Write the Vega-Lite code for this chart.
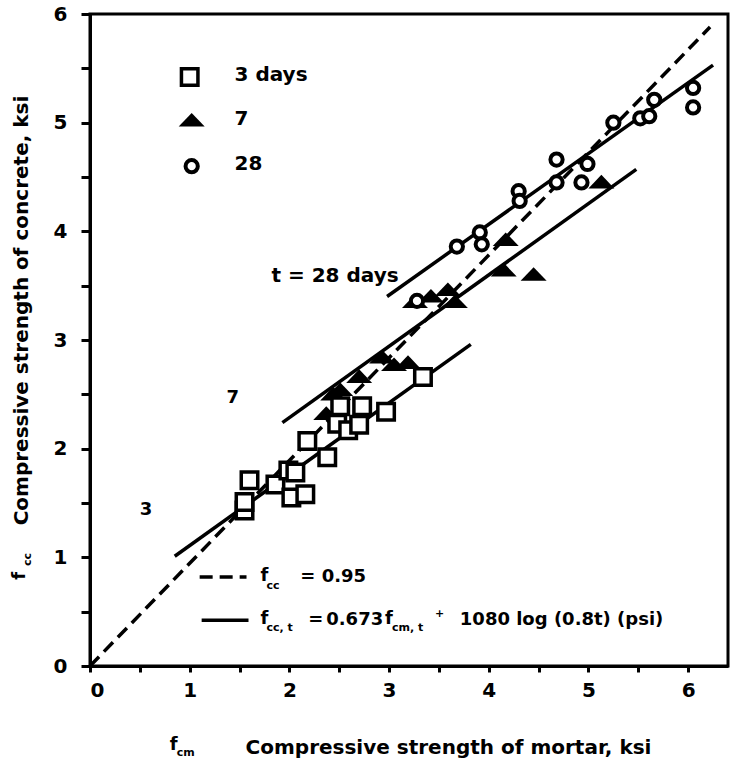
{
  "$schema": "https://vega.github.io/schema/vega-lite/v6.json",
  "width": 638,
  "height": 652,
  "autosize": {"type": "none"},
  "padding": {"left": 90, "top": 14, "right": 3, "bottom": 97},
  "background": "white",
  "config": {
    "view": {"stroke": "black", "strokeWidth": 3},
    "font": "DejaVu Sans",
    "text": {"font": "DejaVu Sans", "fontWeight": "bold", "color": "black"}
  },
  "datasets": {
    "pts": [
      {"age": "3", "x": 1.55, "y": 1.43}, {"age": "3", "x": 1.55, "y": 1.51}, {"age": "3", "x": 1.60, "y": 1.71},
      {"age": "3", "x": 1.86, "y": 1.67}, {"age": "3", "x": 1.99, "y": 1.80}, {"age": "3", "x": 2.06, "y": 1.78},
      {"age": "3", "x": 2.02, "y": 1.55}, {"age": "3", "x": 2.16, "y": 1.58}, {"age": "3", "x": 2.18, "y": 2.07},
      {"age": "3", "x": 2.38, "y": 1.92}, {"age": "3", "x": 2.48, "y": 2.23}, {"age": "3", "x": 2.51, "y": 2.39},
      {"age": "3", "x": 2.59, "y": 2.17}, {"age": "3", "x": 2.70, "y": 2.22}, {"age": "3", "x": 2.73, "y": 2.39},
      {"age": "3", "x": 2.97, "y": 2.34}, {"age": "3", "x": 3.34, "y": 2.66}, {"age": "3", "x": 1.00, "y": 5.42},
      {"age": "7", "x": 2.37, "y": 2.33}, {"age": "7", "x": 2.44, "y": 2.51}, {"age": "7", "x": 2.51, "y": 2.55},
      {"age": "7", "x": 2.70, "y": 2.67}, {"age": "7", "x": 2.93, "y": 2.85}, {"age": "7", "x": 3.05, "y": 2.78},
      {"age": "7", "x": 3.19, "y": 2.80}, {"age": "7", "x": 3.26, "y": 3.36}, {"age": "7", "x": 3.42, "y": 3.41},
      {"age": "7", "x": 3.59, "y": 3.47}, {"age": "7", "x": 3.66, "y": 3.36}, {"age": "7", "x": 4.17, "y": 3.93},
      {"age": "7", "x": 4.15, "y": 3.65}, {"age": "7", "x": 4.45, "y": 3.61}, {"age": "7", "x": 5.13, "y": 4.46},
      {"age": "7", "x": 1.02, "y": 5.03},
      {"age": "28", "x": 3.28, "y": 3.36}, {"age": "28", "x": 3.68, "y": 3.86}, {"age": "28", "x": 3.91, "y": 3.99},
      {"age": "28", "x": 3.93, "y": 3.88}, {"age": "28", "x": 4.30, "y": 4.37}, {"age": "28", "x": 4.31, "y": 4.28},
      {"age": "28", "x": 4.68, "y": 4.66}, {"age": "28", "x": 4.68, "y": 4.45}, {"age": "28", "x": 4.93, "y": 4.45},
      {"age": "28", "x": 4.99, "y": 4.62}, {"age": "28", "x": 5.25, "y": 5.00}, {"age": "28", "x": 5.52, "y": 5.04},
      {"age": "28", "x": 5.61, "y": 5.06}, {"age": "28", "x": 5.66, "y": 5.21}, {"age": "28", "x": 6.05, "y": 5.32},
      {"age": "28", "x": 6.05, "y": 5.14}, {"age": "28", "x": 1.02, "y": 4.60}
    ],
    "fits": [
      {"line": "3", "x": 0.85, "y": 1.01}, {"line": "3", "x": 3.82, "y": 2.96},
      {"line": "7", "x": 1.93, "y": 2.24}, {"line": "7", "x": 5.48, "y": 4.57},
      {"line": "28", "x": 2.98, "y": 3.40}, {"line": "28", "x": 6.25, "y": 5.53},
      {"line": "key", "x": 1.12, "y": 0.42}, {"line": "key", "x": 1.59, "y": 0.42}
    ],
    "dashed": [
      {"line": "fit", "x": 0.0, "y": 0.0}, {"line": "fit", "x": 6.22, "y": 5.88},
      {"line": "key", "x": 1.10, "y": 0.82}, {"line": "key", "x": 1.57, "y": 0.82}
    ],
    "textBig": [
      {"x": 1.45, "y": 5.44, "t": "3 days"},
      {"x": 1.45, "y": 5.03, "t": "7"},
      {"x": 1.45, "y": 4.62, "t": "28"},
      {"x": 1.82, "y": 3.59, "t": "t = 28 days"}
    ],
    "textMain": [
      {"x": 0.50, "y": 1.44, "t": "3"},
      {"x": 1.37, "y": 2.47, "t": "7"},
      {"x": 1.71, "y": 0.83, "t": "f"},
      {"x": 2.11, "y": 0.82, "t": "= 0.95"},
      {"x": 1.71, "y": 0.43, "t": "f"},
      {"x": 2.19, "y": 0.42, "t": "="},
      {"x": 2.37, "y": 0.42, "t": "0.673"},
      {"x": 2.96, "y": 0.43, "t": "f"},
      {"x": 3.71, "y": 0.42, "t": "1080 log (0.8t) (psi)"},
      {"x": 0.80, "y": -0.73, "t": "f"}
    ],
    "textSub": [
      {"x": 1.77, "y": 0.74, "t": "cc"},
      {"x": 1.77, "y": 0.35, "t": "cc, t"},
      {"x": 3.03, "y": 0.35, "t": "cm, t"},
      {"x": 3.46, "y": 0.48, "t": "+"},
      {"x": 0.87, "y": -0.80, "t": "cm"}
    ],
    "rotMain": [{"x": -0.70, "y": 0.83, "t": "f"}],
    "rotSub": [{"x": -0.62, "y": 0.98, "t": "cc"}]
  },
  "encoding": {
    "x": {
      "field": "x", "type": "quantitative",
      "scale": {"domain": [0, 6.4], "nice": false, "zero": false},
      "axis": {
        "values": [0, 0.5, 1, 1.5, 2, 2.5, 3, 3.5, 4, 4.5, 5, 5.5, 6],
        "labelExpr": "datum.value % 1 === 0 ? format(datum.value, 'd') : ''",
        "grid": false, "domainColor": "black", "domainWidth": 3,
        "tickColor": "black", "tickWidth": 3, "tickSize": 6,
        "labelFont": "DejaVu Sans", "labelFontWeight": "bold", "labelFontSize": 20,
        "labelColor": "black", "labelPadding": 8,
        "title": "Compressive strength of mortar, ksi",
        "titleFont": "DejaVu Sans", "titleFontWeight": "bold", "titleFontSize": 20,
        "titleColor": "black", "titleX": 358, "titleY": 81,
        "titleAlign": "center", "titleBaseline": "middle"
      }
    },
    "y": {
      "field": "y", "type": "quantitative",
      "scale": {"domain": [0, 6], "nice": false, "zero": false},
      "axis": {
        "values": [0, 0.5, 1, 1.5, 2, 2.5, 3, 3.5, 4, 4.5, 5, 5.5, 6],
        "labelExpr": "datum.value % 1 === 0 ? format(datum.value, 'd') : ''",
        "grid": false, "domainColor": "black", "domainWidth": 3,
        "tickColor": "black", "tickWidth": 3, "tickSize": 9,
        "labelFont": "DejaVu Sans", "labelFontWeight": "bold", "labelFontSize": 20,
        "labelColor": "black", "labelPadding": 14,
        "title": "Compressive strength of concrete, ksi",
        "titleFont": "DejaVu Sans", "titleFontWeight": "bold", "titleFontSize": 20,
        "titleColor": "black", "titleX": -69, "titleY": 296, "titleAngle": 270,
        "titleAlign": "center", "titleBaseline": "middle"
      }
    }
  },
  "layer": [
    {
      "data": {"name": "dashed"},
      "mark": {"type": "line", "color": "black", "strokeWidth": 3.5, "strokeDash": [13, 7]},
      "encoding": {"detail": {"field": "line"}}
    },
    {
      "data": {"name": "fits"},
      "mark": {"type": "line", "color": "black", "strokeWidth": 3.5},
      "encoding": {"detail": {"field": "line"}}
    },
    {
      "data": {"name": "pts"},
      "transform": [{"filter": "datum.age === '7'"}],
      "mark": {"type": "point", "shape": "M-1,0.55L1,0.55L0,-0.5Z", "size": 676, "filled": true, "color": "black", "opacity": 1}
    },
    {
      "data": {"name": "pts"},
      "transform": [{"filter": "datum.age === '3'"}],
      "mark": {"type": "point", "shape": "square", "size": 272, "filled": false, "fill": "white", "fillOpacity": 1, "stroke": "black", "strokeWidth": 3.5, "opacity": 1}
    },
    {
      "data": {"name": "pts"},
      "transform": [{"filter": "datum.age === '28'"}],
      "mark": {"type": "point", "shape": "circle", "size": 150, "filled": false, "fill": "white", "fillOpacity": 1, "stroke": "black", "strokeWidth": 4, "opacity": 1}
    },
    {
      "data": {"name": "textBig"},
      "mark": {"type": "text", "fontSize": 20, "align": "left", "baseline": "middle"},
      "encoding": {"text": {"field": "t"}}
    },
    {
      "data": {"name": "textMain"},
      "mark": {"type": "text", "fontSize": 18, "align": "left", "baseline": "middle"},
      "encoding": {"text": {"field": "t"}}
    },
    {
      "data": {"name": "textSub"},
      "mark": {"type": "text", "fontSize": 11, "align": "left", "baseline": "middle"},
      "encoding": {"text": {"field": "t"}}
    },
    {
      "data": {"name": "rotMain"},
      "mark": {"type": "text", "fontSize": 18, "angle": 270, "align": "center", "baseline": "middle"},
      "encoding": {"text": {"field": "t"}}
    },
    {
      "data": {"name": "rotSub"},
      "mark": {"type": "text", "fontSize": 11, "angle": 270, "align": "center", "baseline": "middle"},
      "encoding": {"text": {"field": "t"}}
    }
  ]
}
